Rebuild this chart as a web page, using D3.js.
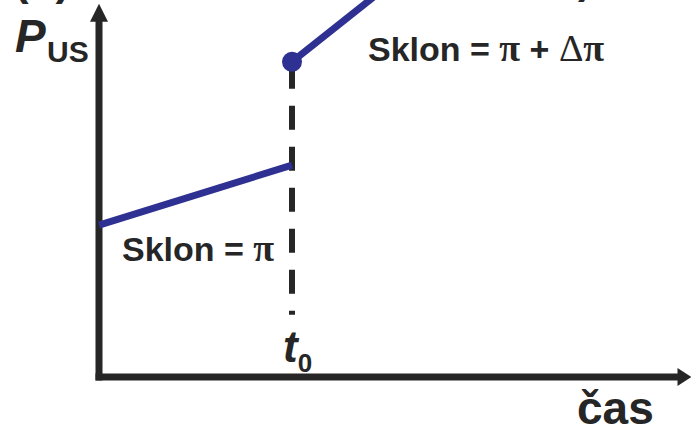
<!DOCTYPE html>
<html>
<head>
<meta charset="utf-8">
<script src="https://cdn.jsdelivr.net/npm/d3@7"></script>
<style>
  body { margin: 0; background: #fff; }
  text { font-family: "Liberation Sans", Arial, sans-serif; font-weight: bold; fill: #262626; }
</style>
</head>
<body>
<div id="chart"></div>
<script>
// time (t0 = 1) and P_US values for the two segments
var lowerT = [0, 1];
var lowerP = [40.3, 56.2];
var upperT = [1, 1.6];
var upperP = [83.6, 108];
var jumpT = 1;      // t0
var dashFromP = 83.6, dashToP = 16.5;
var axisMax = [3.07, 99];

var width = 691, height = 430;
var axisColor = '#262626', lineColor = '#2e3192';

//x: t0 sits at 292px, the y axis at 99px
var x = d3.scaleLinear().domain([0, 1]).range([99, 292]);
var y = d3.scaleLinear().domain([0, 100]).range([377, 0]);

var svg = d3.select('#chart').append('svg')
  .attr('width', width)
  .attr('height', height);

// axes with arrow heads
var x0 = x(0), y0 = y(0), xEnd = x(axisMax[0]), yEnd = y(axisMax[1]);
svg.append('path')
  .attr('d', 'M' + x0 + ',' + (y0 + 3.5) + 'V' + (yEnd + 16))
  .attr('stroke', axisColor).attr('stroke-width', 7).attr('fill', 'none');
svg.append('path')
  .attr('d', 'M' + (x0 - 3.5) + ',' + y0 + 'H' + (xEnd - 12))
  .attr('stroke', axisColor).attr('stroke-width', 7).attr('fill', 'none');
svg.append('path')
  .attr('d', 'M' + x0 + ',' + yEnd + 'L' + (x0 - 9) + ',' + (yEnd + 18) + 'L' + (x0 + 9) + ',' + (yEnd + 18) + 'Z')
  .attr('fill', axisColor);
svg.append('path')
  .attr('d', 'M' + xEnd + ',' + y0 + 'L' + (xEnd - 14) + ',' + (y0 - 9) + 'L' + (xEnd - 14) + ',' + (y0 + 9) + 'Z')
  .attr('fill', axisColor);

// dashed marker at t0
svg.append('line')
  .attr('x1', x(jumpT)).attr('x2', x(jumpT))
  .attr('y1', y(dashFromP)).attr('y2', y(dashToP))
  .attr('stroke', axisColor).attr('stroke-width', 6)
  .attr('stroke-dasharray', '24,17').attr('stroke-dashoffset', -3);

var line = d3.line().x(function(d) { return x(d[0]); }).y(function(d) { return y(d[1]); });

svg.append('path')
  .attr('d', line(d3.zip(lowerT, lowerP)))
  .attr('stroke', lineColor).attr('stroke-width', 7).attr('fill', 'none');
svg.append('path')
  .attr('d', line(d3.zip(upperT, upperP)))
  .attr('stroke', lineColor).attr('stroke-width', 7).attr('fill', 'none');
svg.append('circle')
  .attr('cx', x(upperT[0])).attr('cy', y(upperP[0])).attr('r', 10)
  .attr('fill', lineColor);

// labels
svg.append('text').attr('x', 14).attr('y', -5).style('font-size', '44px').text('(b)');
svg.append('text').attr('x', 578).attr('y', -6).style('font-size', '40px').text(')');

var pLabel = svg.append('text').attr('x', 15).attr('y', 52);
pLabel.append('tspan').style('font-size', '46px').style('font-style', 'italic').text('P');
pLabel.append('tspan').attr('x', 47).attr('y', 62).style('font-size', '30px').text('US');

var tLabel = svg.append('text').attr('x', x(jumpT) - 9).attr('y', 362);
tLabel.append('tspan').style('font-size', '44px').style('font-style', 'italic').text('t');
tLabel.append('tspan').attr('y', 372).style('font-size', '26px').text('0');

svg.append('text').attr('x', 577).attr('y', 424).style('font-size', '46px').text('\u010das');

function slope(el, xx, yy, extra) {
  var t = svg.append('text').attr('x', xx).attr('y', yy).style('font-size', '34px');
  t.append('tspan').text('Sklon = ');
  t.append('tspan').style('font-family', '"Liberation Serif", serif').style('font-size', '38px').text('\u03c0');
  if (extra) {
    t.append('tspan').text(' + ');
    t.append('tspan').style('font-family', '"Liberation Serif", serif').style('font-weight', 'normal').style('font-size', '38px').text('\u0394');
    t.append('tspan').style('font-family', '"Liberation Serif", serif').style('font-size', '38px').text('\u03c0');
  }
}
slope(svg, x(0) + 23, 261, false);
slope(svg, 368, 61, true);
</script>
</body>
</html>
